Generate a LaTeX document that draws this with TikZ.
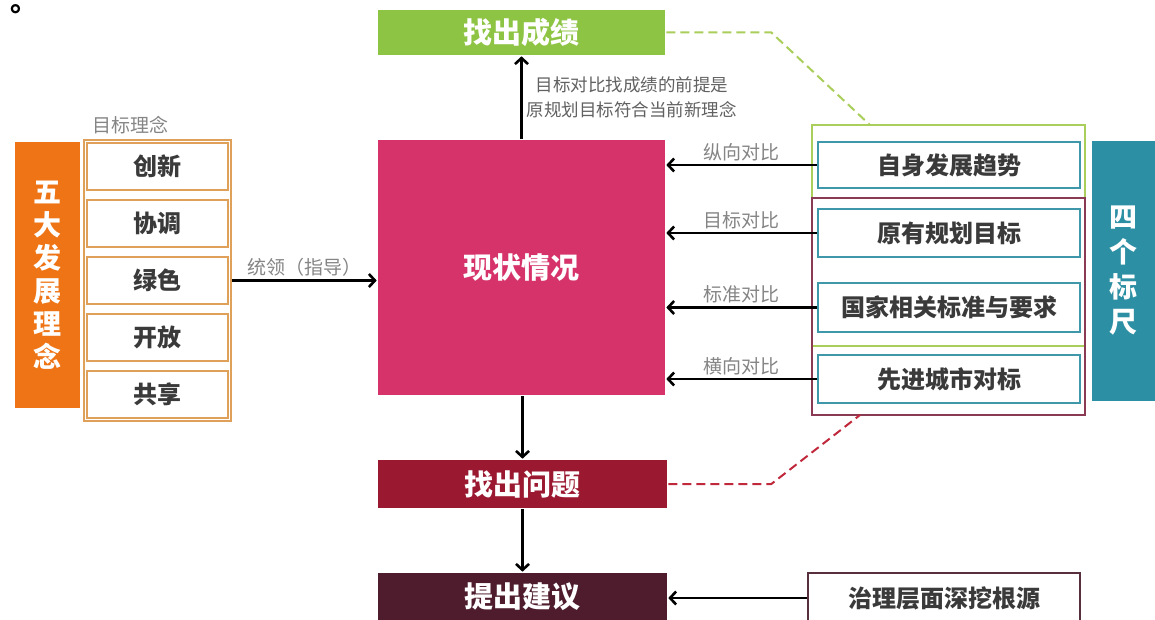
\documentclass[tikz,border=0pt]{standalone}
\usepackage{fontspec}
\setmainfont{Noto Sans CJK SC}
\usetikzlibrary{arrows.meta,positioning,calc,fit}
\definecolor{zgreen}{HTML}{8DC443}
\definecolor{zgreenline}{HTML}{A9CE5A}
\definecolor{zpink}{HTML}{D6336A}
\definecolor{zorange}{HTML}{EE7415}
\definecolor{zorangeline}{HTML}{DFA05A}
\definecolor{zteal}{HTML}{2C8FA3}
\definecolor{ztealline}{HTML}{3F98AA}
\definecolor{zred}{HTML}{9A1830}
\definecolor{zmaroon}{HTML}{4E1C2C}
\definecolor{zmaroonline}{HTML}{8A3A52}
\definecolor{zredline}{HTML}{C0283C}
\definecolor{ztext}{HTML}{3A3A3A}
\definecolor{znote}{HTML}{858585}
\tikzset{
  solidbox/.style={
    rectangle,
    inner sep=0pt,
    text=white,
    font=\bfseries\fontsize{29}{33}\selectfont
  },
  linebox/.style={
    rectangle,
    inner sep=0pt,
    fill=white,
    line width=2pt,
    text=ztext,
    font=\bfseries\fontsize{24}{28}\selectfont
  },
  note/.style={
    text=znote,
    inner sep=1pt,
    font=\fontsize{19}{25}\selectfont
  },
}

\begin{document}
\begin{tikzpicture}[->,>={Straight Barb[length=6pt,width=13pt]},line width=2.6pt,x=1pt,y=-1pt,every text node part/.style={align=center}]
\useasboundingbox[fill=white] (0,0) rectangle (1155,620);

\node[text=black, font=\bfseries\fontsize{28}{28}\selectfont, inner sep=0pt, anchor=base west] (DOT) at (9,12) {。};

% center column
\node[solidbox, fill=zgreen, minimum width=287pt, minimum height=45pt] (CHENGJI) at (521.5,32.5) {找出成绩};
\node[solidbox, fill=zpink, minimum width=287pt, minimum height=255pt] (XIANZHUANG) at (521.5,267.5) {现状情况};
\node[solidbox, fill=zred, minimum width=289pt, minimum height=48pt] (WENTI) at (522.5,484) {找出问题};
\node[solidbox, fill=zmaroon, minimum width=289pt, minimum height=48pt] (JIANYI) at (522.5,597) {提出建议};

% left column
\node[note, anchor=south] (MUBIAO) at (130,136) {目标理念};
\node[solidbox, fill=zorange, minimum width=65pt, minimum height=266pt, font=\bfseries\fontsize{28}{33}\selectfont] (WUDA) at (47.5,275) {五\\大\\发\\展\\理\\念};
\node[linebox, draw=zorangeline, minimum width=141pt, minimum height=47pt] (CHUANGXIN) at (157.5,166.5) {创新};
\node[linebox, draw=zorangeline, minimum width=141pt, minimum height=47pt, below=8pt of CHUANGXIN] (XIETIAO) {协调};
\node[linebox, draw=zorangeline, minimum width=141pt, minimum height=47pt, below=8pt of XIETIAO] (LVSE) {绿色};
\node[linebox, draw=zorangeline, minimum width=141pt, minimum height=47pt, below=8pt of LVSE] (KAIFANG) {开放};
\node[linebox, draw=zorangeline, minimum width=141pt, minimum height=47pt, below=8pt of KAIFANG] (GONGXIANG) {共享};
\node[fit=(CHUANGXIN) (GONGXIANG), inner sep=2pt, draw=zorangeline, line width=1.5pt] (LINIAN) {};

\draw (LINIAN.east |- LVSE) -- node[note, above=2pt]{统领（指导）} (LVSE -| XIANZHUANG.west);

% right column
\draw[-, draw=zgreenline, line width=1.8pt] (812,125) rectangle (1085,346);
\coordinate (GFRAMETOP) at (870,125);
\draw[-, draw=zmaroonline, line width=1.8pt] (812,198) rectangle (1085,415);
\coordinate (MFRAMEBOT) at (860,415);

\node[linebox, draw=ztealline, minimum width=262pt, minimum height=46pt] (ZISHEN) at (949,165) {自身发展趋势};
\node[linebox, draw=ztealline, minimum width=262pt, minimum height=48pt] (YUANYOU) at (949,233) {原有规划目标};
\node[linebox, draw=ztealline, minimum width=262pt, minimum height=49pt] (GUOJIA) at (949,307.5) {国家相关标准与要求};
\node[linebox, draw=ztealline, minimum width=262pt, minimum height=48pt] (XIANJIN) at (949,379) {先进城市对标};
\node[solidbox, fill=zteal, minimum width=63pt, minimum height=260pt, font=\bfseries\fontsize{28}{35}\selectfont] (SIGE) at (1123.5,271) {四\\个\\标\\尺};

\node[linebox, draw=zmaroon!80!gray, minimum width=272pt, minimum height=50pt] (ZHILI) at (944,598) {治理层面深挖根源};

\draw (ZISHEN.west) -- node[note, above=2pt]{纵向对比} (ZISHEN.west -| XIANZHUANG.east);
\draw (YUANYOU.west) -- node[note, above=2pt]{目标对比} (YUANYOU.west -| XIANZHUANG.east);
\draw (GUOJIA.west) -- node[note, above=2pt]{标准对比} (GUOJIA.west -| XIANZHUANG.east);
\draw (XIANJIN.west) -- node[note, above=2pt]{横向对比} (XIANJIN.west -| XIANZHUANG.east);

% vertical flow
\draw (XIANZHUANG.north) -- node[note, right=3pt, align=left, font=\fontsize{17.5}{25}\selectfont, text=ztext!80]{目标对比找成绩的前提是\\原规划目标符合当前新理念} (CHENGJI.south);
\draw (XIANZHUANG.south -| WENTI.north) -- (WENTI.north);
\draw (WENTI.south) -- (JIANYI.north);
\draw (ZHILI.west) -- (ZHILI.west -| JIANYI.east);

% dashed links
\draw[-, dashed, dash pattern=on 9pt off 5pt, draw=zgreenline, line width=2pt] (CHENGJI.east) -- ($(CHENGJI.east)+(105,0)$) -- (GFRAMETOP);
\draw[-, dashed, dash pattern=on 9pt off 5pt, draw=zredline, line width=2pt] (WENTI.east) -- ($(WENTI.east)+(103,0)$) -- (MFRAMEBOT);
\end{tikzpicture}
\end{document}
